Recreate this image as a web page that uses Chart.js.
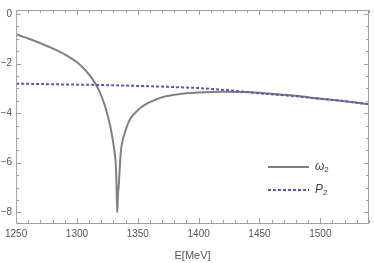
<!DOCTYPE html>
<html>
<head>
<meta charset="utf-8">
<script src="https://cdn.jsdelivr.net/npm/chart.js@4"></script>
<style>
  html, body { margin: 0; padding: 0; background: #fff; }
  #wrap { width: 374px; height: 263px; }
</style>
</head>
<body>
<div id="wrap"><canvas id="plot" width="374" height="263"></canvas></div>
<script>
// omega_2 curve (E in MeV)
const omegaE = [1250, 1260, 1270, 1280, 1290, 1300, 1305, 1310, 1315, 1318, 1320, 1322.5, 1325, 1327, 1329, 1331, 1332, 1332.5, 1333.1,
                1333.7, 1334.4, 1336, 1339.3, 1343, 1345, 1350, 1357, 1365, 1370, 1380, 1390, 1400, 1420, 1440, 1460, 1480, 1500, 1520, 1540];
const omegaVal = [-0.82, -0.99, -1.18, -1.39, -1.63, -1.95, -2.17, -2.45, -2.8, -3.07, -3.3, -3.63, -4.05, -4.45, -4.95, -5.6, -6.15, -6.88, -8.0,
                  -7.3, -6.88, -5.59, -4.8, -4.3, -4.14, -3.88, -3.63, -3.45, -3.36, -3.26, -3.2, -3.17, -3.14, -3.15, -3.22, -3.3, -3.42, -3.52, -3.64];

// P_2 curve
const pE = [1250, 1275, 1300, 1325, 1350, 1375, 1400, 1425, 1450, 1475, 1500, 1520, 1540];
const pVal = [-2.81, -2.83, -2.85, -2.87, -2.9, -2.94, -2.99, -3.08, -3.2, -3.3, -3.42, -3.52, -3.64];

const xTicks = [1250, 1300, 1350, 1400, 1450, 1500];
const yTicks = [0, -2, -4, -6, -8];

const frameColor = '#a0a0a0';
const labelColor = '#555555';
const grayLine = '#808080';
const blueLine = '#5a5ab0';
const font = '"Liberation Sans", Arial, sans-serif';

// tick marks drawn inside the frame, on all four sides
const frameTicks = {
    id: 'frameTicks',
    afterDraw(chart) {
        const { ctx, chartArea: a, scales: { x, y } } = chart;
        ctx.save();
        ctx.strokeStyle = frameColor;
        ctx.lineWidth = 1;
        ctx.beginPath();
        for (let v = 1250; v <= 1540; v += 10) {
            const px = Math.round(x.getPixelForValue(v)) + 0.5;
            const len = v % 50 === 0 ? 5 : 3;
            ctx.moveTo(px, a.bottom); ctx.lineTo(px, a.bottom - len);
            ctx.moveTo(px, a.top); ctx.lineTo(px, a.top + len);
        }
        for (let v = 0; v >= -8; v -= 0.5) {
            const py = Math.round(y.getPixelForValue(v)) + 0.5;
            const len = v % 2 === 0 ? 5 : 3;
            ctx.moveTo(a.left, py); ctx.lineTo(a.left + len, py);
            ctx.moveTo(a.right, py); ctx.lineTo(a.right - len, py);
        }
        ctx.stroke();
        ctx.strokeRect(a.left + 0.5, a.top + 0.5, a.right - a.left - 1, a.bottom - a.top);
        ctx.restore();
    }
};

// legend inside the plot, bottom right
const insideLegend = {
    id: 'insideLegend',
    afterDraw(chart) {
        const { ctx } = chart;
        const items = [
            { sym: 'ω', color: grayLine, dash: [], y: 167 },
            { sym: 'P', color: blueLine, dash: [3, 2], y: 190 }
        ];
        ctx.save();
        items.forEach(it => {
            ctx.strokeStyle = it.color;
            ctx.lineWidth = 2;
            ctx.setLineDash(it.dash);
            ctx.beginPath();
            ctx.moveTo(268, it.y);
            ctx.lineTo(309, it.y);
            ctx.stroke();
            ctx.fillStyle = '#444';
            ctx.textBaseline = 'middle';
            ctx.font = 'italic 12px ' + font;
            ctx.fillText(it.sym, 315, it.y);
            const w = ctx.measureText(it.sym).width;
            ctx.font = '8px ' + font;
            ctx.fillText('2', 315 + w, it.y + 3);
        });
        ctx.restore();
    }
};

new Chart(document.getElementById('plot'), {
    type: 'line',
    data: {
        datasets: [
            {
                label: 'ω2',
                data: omegaE.map((e, i) => ({ x: e, y: omegaVal[i] })),
                borderColor: grayLine,
                borderWidth: 2,
                pointRadius: 0,
                cubicInterpolationMode: 'monotone',
                order: 2
            },
            {
                label: 'P2',
                data: pE.map((e, i) => ({ x: e, y: pVal[i] })),
                borderColor: blueLine,
                borderWidth: 2,
                borderDash: [3, 2],
                pointRadius: 0,
                cubicInterpolationMode: 'monotone',
                order: 1
            }
        ]
    },
    options: {
        responsive: false,
        animation: false,
        layout: { padding: { top: 3, right: 5, left: 0, bottom: 0 } },
        plugins: { legend: { display: false }, tooltip: { enabled: false } },
        scales: {
            x: {
                type: 'linear',
                min: 1250,
                max: 1540,
                afterBuildTicks: s => { s.ticks = xTicks.map(v => ({ value: v })); },
                afterFit: s => { s.height = 40; },
                grid: { display: false, drawTicks: false },
                border: { display: false },
                ticks: {
                    color: labelColor,
                    font: { family: font, size: 10 },
                    padding: 5,
                    maxRotation: 0,
                    callback: v => String(v)
                },
                title: {
                    display: true,
                    text: 'E[MeV]',
                    color: labelColor,
                    font: { family: font, size: 11 },
                    padding: { top: 4, bottom: 0 }
                }
            },
            y: {
                min: -8.43,
                max: 0.16,
                afterBuildTicks: s => { s.ticks = yTicks.map(v => ({ value: v })); },
                afterFit: s => { s.width = 16; },
                grid: { display: false, drawTicks: false },
                border: { display: false },
                ticks: {
                    color: labelColor,
                    font: { family: font, size: 10 },
                    padding: 4,
                    callback: v => v < 0 ? '−' + Math.abs(v) : String(v)
                }
            }
        }
    },
    plugins: [frameTicks, insideLegend]
});
</script>
</body>
</html>
